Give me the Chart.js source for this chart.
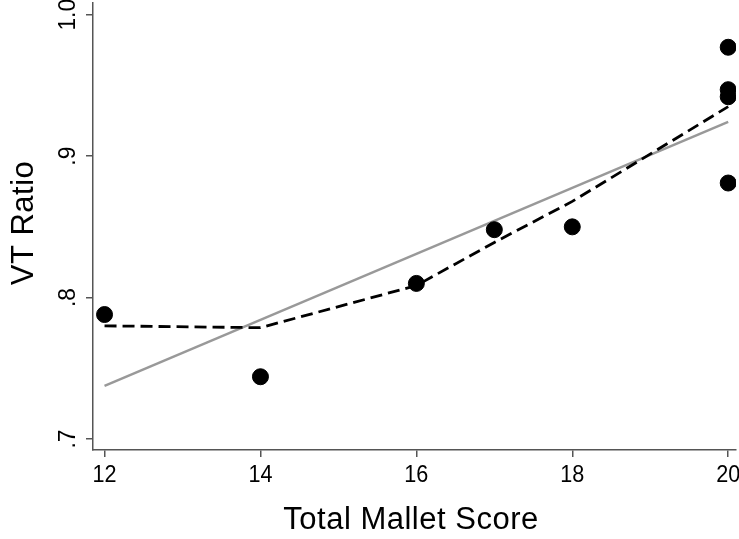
<!DOCTYPE html>
<html>
<head>
<meta charset="utf-8">
<script src="https://cdn.jsdelivr.net/npm/chart.js@4"></script>
<style>
  html, body { margin: 0; padding: 0; background: #fff; }
  #wrap { width: 739px; height: 539px; }
</style>
</head>
<body>
<div id="wrap"><canvas id="vtChart" width="739" height="539"></canvas></div>
<script>
// observed points
var scoreX = [12, 14, 16, 17, 18, 20, 20, 20, 20];
var ratioY = [0.788, 0.744, 0.810, 0.848, 0.850, 0.977, 0.947, 0.942, 0.881];

// linear fit (grey line)
var fitX = [12, 20];
var fitY = [0.7375, 0.9243];

// lowess smoother (dashed line)
var lowessX = [12, 14, 16, 17, 18, 20];
var lowessY = [0.780, 0.7787, 0.8085, 0.839, 0.868, 0.935];

// tick labels
var xTicks = [12, 14, 16, 18, 20];
var yTicks = [0.7, 0.8, 0.9, 1.0];
var yTickLabels = ['.7', '.8', '.9', '1.0'];

function pairs(xs, ys) {
    return xs.map(function (x, i) { return { x: x, y: ys[i] }; });
}

var FONT = '"Liberation Sans", Arial, Helvetica, sans-serif';

// draws tick labels and axis titles at the scale positions
var axisText = {
    id: 'axisText',
    afterDraw: function (chart) {
        var c = chart.ctx;
        var xs = chart.scales.x, ys = chart.scales.y;
        c.save();
        c.fillStyle = '#000';
        c.textAlign = 'center';
        c.font = '24px ' + FONT;
        c.textBaseline = 'alphabetic';
        xTicks.forEach(function (v) {
            c.save();
            c.translate(xs.getPixelForValue(v), 482);
            c.scale(0.9, 1);
            c.fillText(String(v), 0, 0);
            c.restore();
        });
        yTicks.forEach(function (v, i) {
            c.save();
            c.translate(75, ys.getPixelForValue(v));
            c.rotate(-Math.PI / 2);
            c.scale(0.95, 1);
            c.fillText(yTickLabels[i], 0, 0);
            c.restore();
        });
        c.font = '31px ' + FONT;
        c.letterSpacing = '0.5px';
        c.fillText('Total Mallet Score', 411, 529);
        c.save();
        c.translate(33, 223);
        c.rotate(-Math.PI / 2);
        c.fillText('VT Ratio', 0, 0);
        c.restore();
        c.restore();
    }
};

var ctx = document.getElementById('vtChart');

var vtChart = new Chart(ctx, {
    type: 'scatter',
    data: {
        datasets: [
            {
                label: 'VT Ratio',
                data: pairs(scoreX, ratioY),
                backgroundColor: '#000',
                borderColor: '#000',
                pointRadius: 8,
                pointHoverRadius: 8,
                order: 0
            },
            {
                label: 'Linear fit',
                type: 'line',
                data: pairs(fitX, fitY),
                borderColor: '#999999',
                borderWidth: 2.5,
                pointRadius: 0,
                fill: false,
                order: 2
            },
            {
                label: 'Lowess',
                type: 'line',
                data: pairs(lowessX, lowessY),
                borderColor: '#000',
                borderWidth: 2.8,
                borderDash: [12, 6],
                pointRadius: 0,
                fill: false,
                tension: 0,
                order: 1
            }
        ]
    },
    options: {
        responsive: false,
        animation: false,
        devicePixelRatio: 1,
        layout: { autoPadding: false, padding: { top: 3, right: 3, left: 0, bottom: 0 } },
        plugins: {
            legend: { display: false },
            tooltip: { enabled: false }
        },
        scales: {
            x: {
                type: 'linear',
                min: 11.852,
                max: 20.10,
                afterFit: function (s) { s.height = 89; },
                afterBuildTicks: function (s) {
                    s.ticks = xTicks.map(function (v) { return { value: v }; });
                },
                grid: {
                    display: true,
                    drawOnChartArea: false,
                    drawTicks: true,
                    tickLength: 7,
                    color: '#555',
                    lineWidth: 1.5
                },
                border: { display: true, color: '#555', width: 1.5 },
                ticks: { display: false }
            },
            y: {
                type: 'linear',
                min: 0.6922,
                max: 1.0083,
                afterFit: function (s) { s.width = 93; },
                afterBuildTicks: function (s) {
                    s.ticks = yTicks.map(function (v) { return { value: v }; });
                },
                grid: {
                    display: true,
                    drawOnChartArea: false,
                    drawTicks: true,
                    tickLength: 7,
                    color: '#555',
                    lineWidth: 1.5
                },
                border: { display: true, color: '#555', width: 1.5 },
                ticks: { display: false }
            }
        }
    },
    plugins: [axisText]
});
</script>
</body>
</html>
